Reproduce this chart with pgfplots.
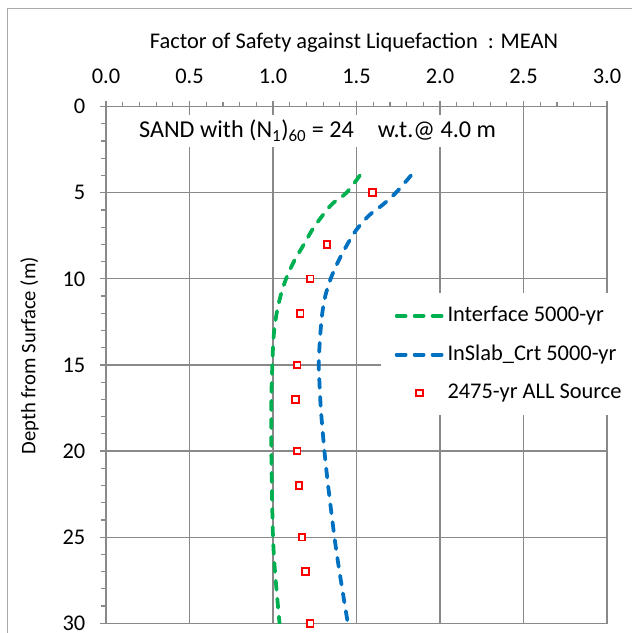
\documentclass[border=0pt]{standalone}
\usepackage{fontspec}
\setmainfont{Carlito}
\usepackage{pgfplots}
\pgfplotsset{compat=1.18}
\definecolor{gridc}{RGB}{137,137,137}
\definecolor{borderc}{RGB}{170,170,170}
\definecolor{cgreen}{RGB}{0,176,80}
\definecolor{cblue}{RGB}{0,112,192}
\begin{document}
\fontsize{22.5}{27}\selectfont
\begin{tikzpicture}
\useasboundingbox (-106bp,-9.7bp) rectangle (526bp,623.3bp);
\draw[borderc, line width=1.2bp] (-98.7bp,-12bp) -- (-98.7bp,614.8bp) -- (530bp,614.8bp);
\node at (248bp,580.3bp) {Factor of Safety against Liquefaction\ \ : MEAN};
\node[rotate=90, font=\fontsize{20.7}{25}\selectfont] at (-76.5bp,267.5bp) {Depth from Surface (m)};
\begin{axis}[
  at={(0bp,0bp)}, anchor=south west,
  scale only axis, width=501bp, height=516.7bp,
  xmin=0, xmax=3, ymin=0, ymax=30, y dir=reverse,
  xtick={0,0.5,1,1.5,2,2.5,3}, ytick={0,5,10,15,20,25,30},
  minor x tick num=4, minor y tick num=4,
  xtick pos=right, ytick pos=left,
  tick align=outside,
  major tick length=6bp, minor tick length=5bp,
  every tick/.style={gridc, line width=1.2bp},
  axis line style={gridc, line width=1.2bp},
  grid=major, major grid style={gridc, line width=1.2bp},
  x tick label style={yshift=9bp, /pgf/number format/fixed, /pgf/number format/fixed zerofill, /pgf/number format/precision=1},
  y tick label style={xshift=-7bp},
  /pgf/number format/assume math mode=true,
  legend style={at={(0.548,0.6387)}, anchor=north west, draw=none, fill=white,
    inner xsep=14bp, inner ysep=13bp, row sep=20bp,
    nodes={inner sep=0pt}, /tikz/every odd column/.append style={column sep=3bp}},
  legend cell align=left,
  legend image code/.code={\draw[mark repeat=2,mark phase=2,#1] plot coordinates {(0bp,0bp) (23bp,0bp) (46bp,0bp)};},
]
\addplot[cgreen, line width=3.75bp, dash pattern=on 9bp off 9bp, line cap=round, smooth] coordinates {
(1.52,4.0) (1.44,5.0) (1.36,5.6) (1.323,6.0) (1.245,7.0) (1.185,8.0) (1.125,9.0) (1.078,10.0)
(1.045,11.0) (1.022,12.0) (1.007,13.0) (1.0,14.0) (0.996,15.0) (0.99,17.0) (0.99,20.0)
(0.993,22.0) (1.0,25.0) (1.012,27.0) (1.039,30.0)};
\addlegendentry{Interface 5000-yr}
\addplot[cblue, line width=3.75bp, dash pattern=on 9bp off 9bp, line cap=round, smooth] coordinates {
(1.826,4.0) (1.736,5.0) (1.657,5.7) (1.577,6.3) (1.498,7.17) (1.445,8.0) (1.39,9.0) (1.345,10.0)
(1.313,11.0) (1.295,12.0) (1.285,13.0) (1.278,14.0) (1.274,15.0) (1.278,16.0) (1.283,17.0)
(1.29,18.0) (1.308,20.0) (1.33,22.0) (1.368,25.0) (1.398,27.0) (1.448,30.0)};
\addlegendentry{InSlab\_Crt 5000-yr}
\addplot[only marks, mark=square*, mark size=3.3bp, red, mark options={fill=white, draw=red, line width=1.9bp, solid}] coordinates {
(1.597,5) (1.324,8) (1.223,10) (1.163,12) (1.145,15) (1.135,17) (1.145,20) (1.155,22)
(1.173,25) (1.195,27) (1.223,30)};
\addlegendentry{2475-yr ALL Source}
\node[fill=white, inner xsep=8bp, inner ysep=5bp, font=\fontsize{24.3}{28}\selectfont] at (axis cs:1.267,1.42) {SAND with (N\textsubscript{1})\textsubscript{60} = 24\hspace{24bp}w.t.@ 4.0 m};
\end{axis}
\end{tikzpicture}
\end{document}
